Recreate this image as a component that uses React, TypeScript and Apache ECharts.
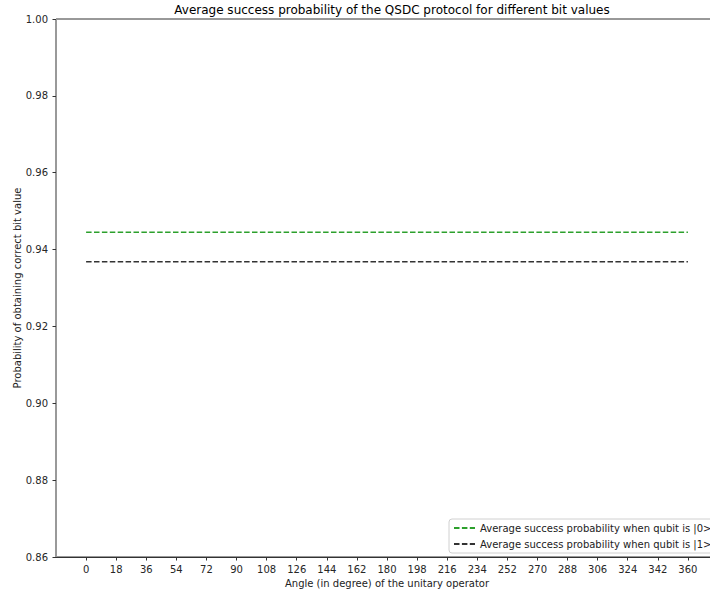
import React, { useEffect, useRef } from "react";
import * as echarts from "echarts";

const angles = [0, 18, 36, 54, 72, 90, 108, 126, 144, 162, 180, 198, 216, 234, 252, 270, 288, 306, 324, 342, 360];
const successBit0 = [0.9445, 0.9445, 0.9445, 0.9445, 0.9445, 0.9445, 0.9445, 0.9445, 0.9445, 0.9445, 0.9445, 0.9445, 0.9445, 0.9445, 0.9445, 0.9445, 0.9445, 0.9445, 0.9445, 0.9445, 0.9445];
const successBit1 = [0.9368, 0.9368, 0.9368, 0.9368, 0.9368, 0.9368, 0.9368, 0.9368, 0.9368, 0.9368, 0.9368, 0.9368, 0.9368, 0.9368, 0.9368, 0.9368, 0.9368, 0.9368, 0.9368, 0.9368, 0.9368];
const seriesNames = [
  "Average success probability when qubit is |0>",
  "Average success probability when qubit is |1>",
];
const titleText = "Average success probability of the QSDC protocol for different bit values";
const xName = "Angle (in degree) of the unitary operator";
const yName = "Probability of obtaining correct bit value";

const FONT = "DejaVu Sans";

export default function App() {
  const ref = useRef<HTMLDivElement>(null);
  useEffect(() => {
    if (!ref.current) return;
    const chart = echarts.init(ref.current, undefined, { renderer: "svg" });
    chart.setOption({
      animation: false,
      backgroundColor: "#ffffff",
      textStyle: { fontFamily: FONT },
      title: {
        text: titleText,
        left: 387,
        top: -1,
        textAlign: "center",
        textStyle: { fontFamily: FONT, fontSize: 12, fontWeight: "normal", color: "#000" },
      },
      grid: {
        left: 56,
        top: 19,
        width: 662,
        height: 538,
        containLabel: false,
        outerBoundsMode: "none",
        show: true,
        borderColor: "#333",
        borderWidth: 1,
        backgroundColor: "transparent",
      },
      legend: {
        orient: "vertical",
        left: 449,
        top: 519,
        itemWidth: 21,
        itemHeight: 10,
        itemGap: 6,
        padding: [4, 8, 4, 4],
        borderColor: "#d0d0d0",
        borderWidth: 1,
        borderRadius: 3,
        backgroundColor: "rgba(255,255,255,0.85)",
        itemStyle: { opacity: 0 },
        textStyle: { fontFamily: FONT, fontSize: 10, color: "#222" },
        data: seriesNames,
      },
      xAxis: {
        type: "value",
        min: -18,
        max: 378,
        interval: 18,
        name: xName,
        nameLocation: "middle",
        nameGap: 21,
        nameMoveOverlap: false,
        nameTextStyle: { fontFamily: FONT, fontSize: 10, color: "#222" },
        axisLine: { show: true, onZero: false, lineStyle: { color: "#333", width: 1 } },
        axisTick: {
          show: true,
          length: 3.5,
          inside: false,
          customValues: angles,
          lineStyle: { color: "#333", width: 1 },
        },
        axisLabel: {
          show: true,
          margin: 7,
          customValues: angles,
          fontFamily: FONT,
          fontSize: 10,
          color: "#262626",
        },
        splitLine: { show: false },
      },
      yAxis: {
        type: "value",
        min: 0.86,
        max: 1.0,
        interval: 0.02,
        name: yName,
        nameLocation: "middle",
        nameGap: 34,
        nameMoveOverlap: false,
        nameRotate: 90,
        nameTextStyle: { fontFamily: FONT, fontSize: 10, color: "#222" },
        axisLine: { show: true, onZero: false, lineStyle: { color: "#999", width: 1 } },
        axisTick: { show: true, length: 3.5, inside: false, lineStyle: { color: "#333", width: 1 } },
        axisLabel: {
          margin: 8,
          fontFamily: FONT,
          fontSize: 10,
          color: "#262626",
          formatter: (v: number) => v.toFixed(2),
        },
        splitLine: { show: false },
      },
      series: [
        {
          name: seriesNames[0],
          type: "line",
          data: angles.map((a, i) => [a, successBit0[i]]),
          symbol: "none",
          lineStyle: { color: "#2ca02c", width: 1.5, type: [5.5, 2.4] },
          itemStyle: { color: "#2ca02c" },
        },
        {
          name: seriesNames[1],
          type: "line",
          data: angles.map((a, i) => [a, successBit1[i]]),
          symbol: "none",
          lineStyle: { color: "#333", width: 1.5, type: [5.5, 2.4] },
          itemStyle: { color: "#333" },
        },
      ],
    });
    return () => chart.dispose();
  }, []);
  return (
    <div
      ref={ref}
      style={{ position: "fixed", left: 0, top: 0, width: 710, height: 594, background: "#fff" }}
    />
  );
}
